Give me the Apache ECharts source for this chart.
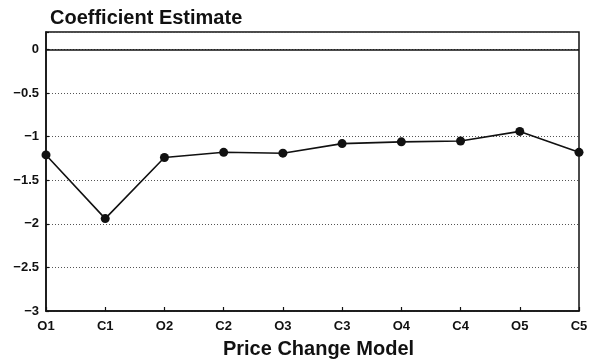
<!DOCTYPE html>
<html>
<head>
<meta charset="utf-8">
<script src="https://cdn.jsdelivr.net/npm/echarts@6/dist/echarts.min.js"></script>
<style>
  html, body { margin: 0; padding: 0; background: #fff; }
  #chart { width: 593px; height: 361px; }
</style>
</head>
<body>
<div id="chart"></div>
<script>
// Price change models along the x axis
const models = ['O1', 'C1', 'O2', 'C2', 'O3', 'C3', 'O4', 'C4', 'O5', 'C5'];
// Coefficient estimate for each model
const coefficients = [-1.21, -1.94, -1.24, -1.18, -1.19, -1.08, -1.06, -1.05, -0.94, -1.18];
// Value axis range and step (the top of the frame sits a little above zero)
const yMin = -3;
const yMax = 0.2;
const yStep = 0.5;

const FONT = '"Liberation Sans", Arial, Helvetica, sans-serif';
const INK = '#111';

// Tick text for the value axis: a proper minus sign, nothing above zero
function yTickText(v) {
  if (v > 1e-9) return '';
  if (Math.abs(v) < 1e-9) return '0';
  return '\u2212' + String(Math.abs(v));
}

const chart = echarts.init(document.getElementById('chart'), null, { renderer: 'canvas' });

chart.setOption({
  animation: false,
  backgroundColor: '#fff',
  title: {
    text: 'Coefficient Estimate',
    left: 45,
    top: 3,
    textStyle: { fontFamily: FONT, fontWeight: 'bold', fontSize: 20, color: INK }
  },
  grid: {
    left: 46, right: 14, top: 32, bottom: 50,
    outerBoundsMode: 'none',
    containLabel: false,
    show: true, borderColor: INK, borderWidth: 1.5, backgroundColor: 'transparent'
  },
  xAxis: {
    type: 'category',
    data: models,
    boundaryGap: false,
    name: 'Price Change Model',
    nameLocation: 'middle',
    nameGap: 28,
    nameTextStyle: { fontFamily: FONT, fontWeight: 'bold', fontSize: 20, color: INK, padding: [0, 0, 0, 12] },
    axisLine: { onZero: false, lineStyle: { color: INK, width: 1.5 } },
    axisTick: { inside: true, length: 4, alignWithLabel: true, lineStyle: { color: INK, width: 1.2 } },
    axisLabel: { fontFamily: FONT, fontWeight: 'bold', fontSize: 13, color: INK, margin: 9 },
    splitLine: { show: false }
  },
  yAxis: {
    type: 'value',
    min: yMin,
    max: yMax,
    interval: yStep,
    axisLine: { show: true, lineStyle: { color: INK, width: 1.5 } },
    axisTick: { show: true, inside: true, length: 3, lineStyle: { color: INK, width: 1.2 } },
    axisLabel: {
      fontFamily: FONT, fontWeight: 'bold', fontSize: 13, color: INK, margin: 7,
      formatter: yTickText
    },
    splitLine: { show: true, lineStyle: { color: '#555', width: 1, type: [1, 2] } }
  },
  series: [{
    type: 'line',
    data: coefficients,
    symbol: 'circle',
    symbolSize: 9,
    itemStyle: { color: INK },
    lineStyle: { color: INK, width: 1.6 },
    markLine: {
      silent: true,
      symbol: 'none',
      label: { show: false },
      lineStyle: { color: INK, type: 'solid', width: 1.5 },
      data: [{ yAxis: 0 }]
    }
  }]
});
</script>
</body>
</html>
